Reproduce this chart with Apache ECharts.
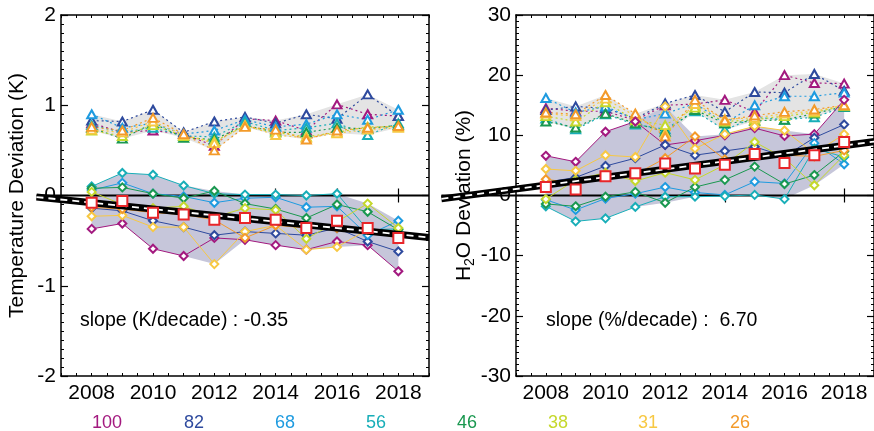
<!DOCTYPE html>
<html><head><meta charset="utf-8">
<script src="https://cdn.jsdelivr.net/npm/echarts@6/dist/echarts.min.js"></script>
<style>html,body{margin:0;padding:0;background:#fff}#c{width:874px;height:431px}</style>
</head><body><div id="c"></div>
<script>
// ---------- data ----------
const years = [2008, 2009, 2010, 2011, 2012, 2013, 2014, 2015, 2016, 2017, 2018];
const tickYears = [2008, 2010, 2012, 2014, 2016, 2018];
const levels = ['100', '82', '68', '56', '46', '38', '31', '26'];
const levelColors = ['#a3197f', '#2e4a9e', '#1e9be0', '#18aeb8', '#1a9850', '#c5d82c', '#f7c843', '#f39a2a'];

// Temperature, triangles (upper group), one row per level
const tempTri = [
  [0.80, 0.70, 0.72, 0.68, 0.55, 0.85, 0.83, 0.72, 1.01, 0.90, 0.88],
  [0.83, 0.82, 0.95, 0.70, 0.82, 0.87, 0.80, 0.90, 0.85, 1.12, 0.88],
  [0.90, 0.75, 0.80, 0.68, 0.72, 0.84, 0.76, 0.79, 0.90, 0.84, 0.95],
  [0.78, 0.70, 0.75, 0.66, 0.65, 0.82, 0.72, 0.75, 0.80, 0.67, 0.80],
  [0.75, 0.63, 0.80, 0.64, 0.62, 0.78, 0.70, 0.70, 0.75, 0.74, 0.78],
  [0.72, 0.66, 0.78, 0.66, 0.60, 0.77, 0.70, 0.65, 0.70, 0.76, 0.76],
  [0.73, 0.70, 0.82, 0.67, 0.58, 0.78, 0.67, 0.64, 0.69, 0.73, 0.75],
  [0.76, 0.72, 0.86, 0.68, 0.50, 0.76, 0.73, 0.62, 0.72, 0.75, 0.77]
];
// Temperature, diamonds (lower group)
const tempDia = [
  [-0.37, -0.31, -0.59, -0.67, -0.47, -0.49, -0.55, -0.60, -0.51, -0.55, -0.84],
  [-0.14, -0.17, -0.28, -0.35, -0.44, -0.40, -0.42, -0.44, -0.36, -0.51, -0.62],
  [0.06, 0.14, 0.02, -0.01, -0.08, -0.03, -0.02, -0.13, -0.12, -0.44, -0.28],
  [0.10, 0.25, 0.23, 0.11, 0.02, 0.01, 0.01, 0.00, 0.02, -0.38, -0.37],
  [0.08, 0.09, 0.02, -0.03, 0.05, -0.09, -0.15, -0.25, -0.10, -0.18, -0.38],
  [0.04, -0.10, -0.14, -0.12, -0.24, -0.14, -0.16, -0.48, -0.29, -0.09, -0.36],
  [-0.23, -0.22, -0.35, -0.35, -0.76, -0.40, -0.33, -0.60, -0.57, -0.38, -0.48],
  [-0.13, -0.15, -0.19, -0.21, -0.27, -0.47, -0.33, -0.36, -0.36, -0.36, -0.45]
];
const tempMean = [-0.08, -0.06, -0.19, -0.21, -0.27, -0.25, -0.27, -0.36, -0.28, -0.36, -0.47];
const tempLineX = [2006.2, 2019.0];
const tempTrendY = [-0.017, -0.465];
const tempSlopeText = 'slope (K/decade) : -0.35';

// H2O, triangles
const h2oTri = [
  [14.5, 14.0, 14.0, 12.5, 15.0, 15.2, 15.9, 13.9, 20.0, 18.7, 18.6],
  [14.2, 14.8, 14.5, 12.8, 15.3, 16.7, 13.9, 17.2, 17.1, 20.2, 17.4],
  [16.2, 13.8, 14.8, 12.6, 13.6, 15.3, 12.0, 15.0, 16.5, 16.5, 17.1],
  [12.8, 11.0, 13.5, 11.8, 11.0, 14.0, 10.9, 13.0, 12.6, 13.0, 14.7],
  [12.3, 11.3, 13.6, 12.0, 10.6, 14.2, 12.0, 12.4, 12.6, 13.6, 14.8],
  [13.2, 12.3, 15.5, 12.5, 11.7, 14.6, 12.3, 12.6, 13.2, 13.8, 14.9],
  [13.6, 13.2, 16.1, 13.2, 10.3, 15.2, 12.7, 12.9, 13.6, 14.0, 15.0],
  [13.8, 13.5, 16.7, 13.6, 9.8, 15.9, 12.5, 13.3, 13.9, 14.3, 15.0]
];
// H2O, diamonds
const h2oDia = [
  [6.6, 5.6, 10.6, 12.3, 8.4, 9.1, 10.0, 11.2, 9.9, 10.2, 15.9],
  [2.2, 3.0, 4.9, 6.2, 8.4, 6.7, 7.4, 8.1, 6.5, 9.6, 11.8],
  [-0.7, -2.4, -0.5, 0.3, 1.4, 0.5, 0.1, 2.3, 2.0, 8.7, 5.2],
  [-1.8, -4.3, -3.8, -1.9, -0.2, -0.2, -0.1, 0.1, -0.6, 7.8, 6.4],
  [-1.4, -1.8, -0.2, 0.6, -1.2, 1.4, 2.6, 4.8, 1.9, 3.4, 7.3],
  [-0.6, 2.6, 3.8, 2.4, 3.8, 2.6, 5.1, 8.9, 6.2, 1.7, 6.7],
  [4.4, 4.1, 6.7, 6.4, 14.8, 7.8, 10.2, 11.5, 10.8, 7.0, 10.2],
  [2.7, 2.0, 3.5, 3.5, 6.2, 9.8, 6.0, 7.0, 6.7, 6.5, 7.5]
];
const h2oMean = [1.4, 1.0, 3.2, 3.7, 5.3, 4.5, 5.1, 6.9, 5.4, 6.7, 8.9];
const h2oLineX = [2004.5, 2019.4];
const h2oTrendY = [-0.56, 9.22];
const h2oSlopeText = 'slope (%/decade) :  6.70';

// ---------- helpers ----------
const FONT = '"Liberation Sans", Arial, Helvetica, sans-serif';
const NARROW = '"Liberation Sans Narrow", "Arial Narrow", "Liberation Sans", Arial, sans-serif';
const BLACK = '#000';
const pts = (vals) => years.map((y, i) => [y, vals[i]]);
const colMin = (rows) => years.map((_, i) => Math.min(...rows.map(r => r[i])));
const colMax = (rows) => years.map((_, i) => Math.max(...rows.map(r => r[i])));

function xAxesFor(grid) {
  const base = { type: 'value', gridIndex: grid, min: 2007, max: 2019, splitLine: { show: false } };
  const line = { show: true, onZero: false, lineStyle: { color: BLACK, width: 1.5 } };
  return [
    Object.assign({}, base, { position: 'bottom', interval: 0.5, axisLine: line,
      axisTick: { show: true, inside: true, length: 3, lineStyle: { color: BLACK, width: 1 } },
      axisLabel: { show: true, customValues: tickYears, formatter: v => String(v), fontSize: 21, color: BLACK, fontFamily: NARROW, margin: 7 } }),
    Object.assign({}, base, { position: 'bottom', axisLine: { show: false },
      axisTick: { show: true, inside: true, length: 7, customValues: tickYears, lineStyle: { color: BLACK, width: 1.2 } },
      axisLabel: { show: false } }),
    Object.assign({}, base, { position: 'top', interval: 0.5, axisLine: line,
      axisTick: { show: true, inside: true, length: 3, lineStyle: { color: BLACK, width: 1 } },
      axisLabel: { show: false } }),
    Object.assign({}, base, { position: 'top', axisLine: { show: false },
      axisTick: { show: true, inside: true, length: 7, customValues: tickYears, lineStyle: { color: BLACK, width: 1.2 } },
      axisLabel: { show: false } })
  ];
}
function yAxesFor(grid, min, max, interval, name, nameGap, rich) {
  const common = { type: 'value', gridIndex: grid, min, max, interval, splitLine: { show: false },
    axisLine: { show: true, onZero: false, lineStyle: { color: BLACK, width: 1.5 } },
    axisTick: { show: true, inside: true, length: 7, lineStyle: { color: BLACK, width: 1.2 } },
    minorTick: { show: true, splitNumber: 10, length: 3, lineStyle: { color: BLACK, width: 1 } },
    minorSplitLine: { show: false } };
  return [
    Object.assign({}, common, { position: 'left',
      axisLabel: { fontSize: 21, color: BLACK, fontFamily: NARROW, margin: 5 },
      name, nameLocation: 'middle', nameGap, nameRotate: 90,
      nameTextStyle: { fontSize: 21, color: BLACK, fontFamily: FONT, rich } }),
    Object.assign({}, common, { position: 'right', axisLabel: { show: false } })
  ];
}

function bandSeries(xi, yi, lo, hi, color) {
  return { type: 'custom', xAxisIndex: xi, yAxisIndex: yi, silent: true, z: 1,
    data: years.map((y, i) => [y, lo[i], hi[i]]),
    encode: { x: 0, y: [1, 2] },
    renderItem: (params, api) => {
      if (params.dataIndex !== 0) return { type: 'group', children: [] };
      const top = years.map((y, i) => api.coord([y, hi[i]]));
      const bot = years.map((y, i) => api.coord([y, lo[i]])).reverse();
      return { type: 'polygon', shape: { points: top.concat(bot) }, style: { fill: color, stroke: null } };
    } };
}
function straightSeries(xi, yi, xs, ys, trend, z) {
  return { type: 'custom', xAxisIndex: xi, yAxisIndex: yi, silent: true, z, clip: false,
    data: [[xs[0], ys[0], xs[1], ys[1]]],
    encode: { x: [0, 2], y: [1, 3] },
    renderItem: (params, api) => {
      const a = api.coord([api.value(0), api.value(1)]);
      const b = api.coord([api.value(2), api.value(3)]);
      const shape = { x1: a[0], y1: a[1], x2: b[0], y2: b[1] };
      if (!trend) return { type: 'line', shape, style: { stroke: BLACK, lineWidth: 2.2 } };
      return { type: 'group', children: [
        { type: 'line', shape, style: { stroke: BLACK, lineWidth: 7 } },
        { type: 'line', shape, style: { stroke: '#fff', lineWidth: 1.8, lineDash: [7, 5] } }
      ] };
    } };
}

function panelSeries(xi, yi, tri, dia, mean, lineX, trendY) {
  const s = [];
  s.push(bandSeries(xi, yi, colMin(tri), colMax(tri), '#e4e4e4'));
  s.push(bandSeries(xi, yi, colMin(dia), colMax(dia), '#c6c6da'));
  s.push(straightSeries(xi, yi, lineX, [0, 0], false, 2));
  levels.forEach((lv, k) => {
    s.push({ type: 'line', name: lv, xAxisIndex: xi, yAxisIndex: yi, data: pts(tri[k]),
      symbol: 'emptyTriangle', symbolSize: [9, 8], showAllSymbol: true,
      itemStyle: { color: levelColors[k], borderWidth: 1.3 },
      lineStyle: { color: levelColors[k], width: 1.2, type: [2, 3] }, z: 3 });
  });
  levels.forEach((lv, k) => {
    s.push({ type: 'line', name: lv, xAxisIndex: xi, yAxisIndex: yi, data: pts(dia[k]),
      symbol: 'emptyDiamond', symbolSize: 8, showAllSymbol: true,
      itemStyle: { color: levelColors[k], borderWidth: 1.2 },
      lineStyle: { color: levelColors[k], width: 1 }, z: 3 });
  });
  s.push(straightSeries(xi, yi, lineX, trendY, true, 4));
  s.push({ type: 'line', xAxisIndex: xi, yAxisIndex: yi, data: pts(mean), symbol: 'emptyRect', symbolSize: 10,
    showAllSymbol: true, lineStyle: { opacity: 0 }, itemStyle: { color: '#e8262a', borderWidth: 1.8 }, z: 5 });
  return s;
}

const legendX = [107, 194, 285, 376, 467, 558, 648, 740];
const graphics = levels.map((lv, k) => ({ type: 'text', x: legendX[k], y: 423,
  style: { text: lv, fill: levelColors[k], font: '18px ' + NARROW, textAlign: 'center', textVerticalAlign: 'middle' } }));
graphics.push({ type: 'text', x: 80, y: 321, style: { text: tempSlopeText, fill: BLACK, font: '19.5px ' + FONT, textAlign: 'left', textVerticalAlign: 'middle' } });
graphics.push({ type: 'text', x: 546, y: 321, style: { text: h2oSlopeText, fill: BLACK, font: '19.5px ' + FONT, textAlign: 'left', textVerticalAlign: 'middle' } });

const option = {
  animation: false,
  backgroundColor: '#fff',
  grid: [
    { left: 61, top: 15, width: 368, height: 361 },
    { left: 516, top: 15, width: 368, height: 361 }
  ],
  xAxis: [...xAxesFor(0), ...xAxesFor(1)],
  yAxis: [
    ...yAxesFor(0, -2, 2, 1, 'Temperature Deviation (K)', 33, {}),
    ...yAxesFor(1, -30, 30, 10, 'H{s|2}O Deviation (%)', 38, { s: { fontSize: 14, padding: [11, 0, 0, 0], fontFamily: FONT, color: BLACK } })
  ],
  series: [
    ...panelSeries(0, 0, tempTri, tempDia, tempMean, tempLineX, tempTrendY),
    ...panelSeries(4, 2, h2oTri, h2oDia, h2oMean, h2oLineX, h2oTrendY)
  ],
  graphic: graphics
};
const chart = echarts.init(document.getElementById('c'));
chart.setOption(option);
</script>
</body></html>
